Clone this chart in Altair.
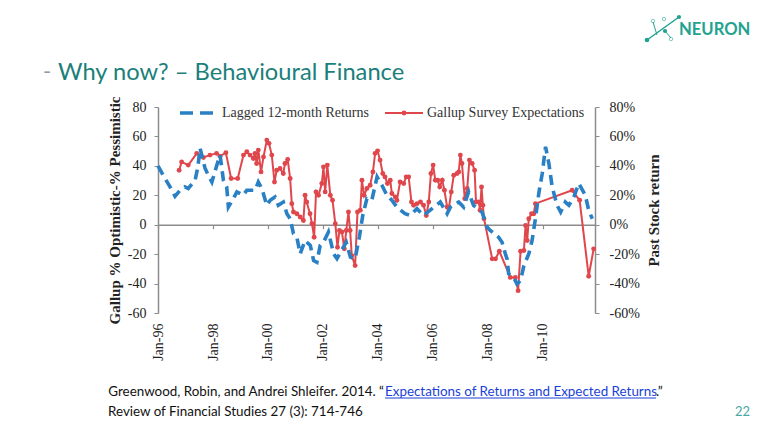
import altair as alt
import pandas as pd

# ---------------- data ----------------
# Lagged 12-month returns (right axis, %), decimal year -> value
blue_t = [1996.00, 1996.19, 1996.44, 1996.62, 1996.80, 1996.98, 1997.10, 1997.35, 1997.45, 1997.53,
          1997.71, 1997.83, 1997.96, 1998.14, 1998.26, 1998.38, 1998.50, 1998.56, 1998.74, 1998.87,
          1999.10, 1999.23, 1999.53, 1999.65, 1999.78, 1999.96, 2000.08, 2000.26, 2000.38, 2000.56,
          2000.69, 2000.81, 2000.93, 2001.05, 2001.17, 2001.35, 2001.54, 2001.66, 2001.78, 2001.90,
          2002.02, 2002.20, 2002.39, 2002.51, 2002.69, 2002.85, 2003.00, 2003.17, 2003.33, 2003.45,
          2003.60, 2003.78, 2003.97, 2004.15, 2004.33, 2004.51, 2004.69, 2004.99, 2005.18, 2005.42,
          2005.66, 2005.97, 2006.27, 2006.52, 2006.64, 2006.94, 2007.12, 2007.30, 2007.48, 2007.79,
          2007.97, 2008.09, 2008.39, 2008.52, 2008.64, 2008.70, 2008.76, 2008.94, 2009.06, 2009.19,
          2009.31, 2009.49, 2009.61, 2009.73, 2009.86, 2009.98, 2010.10, 2010.22, 2010.34, 2010.52,
          2010.65, 2010.82, 2010.95, 2011.13, 2011.31, 2011.55, 2011.67, 2011.80]
blue_v = [40, 33.6, 25.7, 19.3, 23.4, 25.7, 24.6, 30.2, 39.3, 52,
          38.4, 33.6, 29, 40.5, 47.3, 30.2, 25.7, 12, 17.7, 22.3,
          20, 23.4, 23.4, 29, 24.6, 13.2, 16.6, 18.8, 13.2, 15.4,
          7.5, 4.1, -6.1, -8.5, -19.8, -10.7, -14.1, -24.4, -25.5, -14.1,
          -11.9, -5, -19.8, -23, -17, -12, -22.1, -23.2, -8, 6.3,
          17.7, 16.6, 32.5, 26.8, 20, 16.6, 12, 7.5, 6.3, 10.9,
          6.3, 10.9, 15.4, 7.5, 12, 15.4, 12, 22.3, 13.2, 8.6,
          -1.6, -3.9, -8.5, -11.9, -19.8, -23.2, -33.4, -35.8, -40.3, -38,
          -27.8, -19.8, -10.7, 4.1, 22.3, 34.8, 53, 41.6, 25.7, 13.2,
          8.6, 15.4, 13.2, 18.8, 28, 20, 9.8, 4.1]

# Gallup survey expectations (left axis), decimal year -> value
red_t = [1996.77, 1996.86, 1997.10, 1997.41, 1997.65, 1997.89, 1998.13, 1998.26, 1998.47, 1998.66,
         1998.90, 1999.11, 1999.23, 1999.35, 1999.47, 1999.53, 1999.59, 1999.65, 1999.75, 1999.84,
         1999.96, 2000.04, 2000.14, 2000.24, 2000.32, 2000.44, 2000.56, 2000.62, 2000.72, 2000.81,
         2000.87, 2000.93, 2001.05, 2001.17, 2001.29, 2001.35, 2001.41, 2001.53, 2001.60, 2001.68,
         2001.75, 2001.84, 2001.96, 2002.02, 2002.08, 2002.16, 2002.27, 2002.35, 2002.45, 2002.53,
         2002.60, 2002.69, 2002.78, 2002.85, 2002.93, 2002.99, 2003.05, 2003.17, 2003.26, 2003.36,
         2003.42, 2003.50, 2003.60, 2003.72, 2003.82, 2003.90, 2003.99, 2004.08, 2004.18, 2004.26,
         2004.35, 2004.45, 2004.51, 2004.63, 2004.69, 2004.81, 2004.94, 2005.03, 2005.12, 2005.22,
         2005.30, 2005.42, 2005.55, 2005.66, 2005.76, 2005.85, 2005.93, 2006.01, 2006.09, 2006.18,
         2006.25, 2006.34, 2006.42, 2006.52, 2006.58, 2006.67, 2006.76, 2006.88, 2006.94, 2007.00,
         2007.06, 2007.16, 2007.25, 2007.33, 2007.43, 2007.52, 2007.57, 2007.67, 2007.72, 2007.77,
         2007.82, 2007.86, 2008.16, 2008.28, 2008.42, 2008.82, 2009.00, 2009.10, 2009.19, 2009.31,
         2009.37, 2009.43, 2009.49, 2009.59, 2009.67, 2009.73, 2011.07, 2011.34, 2011.67, 2011.85]
red_v = [37, 42.7, 40.5, 48.5, 45.7, 47.3, 48.5, 46.6, 48.9, 31.4,
         31.4, 47.3, 49.6, 47.3, 45, 48.5, 41.6, 50.7, 35.9, 46.1,
         57.5, 55.3, 47.3, 29, 37, 38.2, 34.8, 41.6, 44.4, 31.4,
         14.3, 8.6, 7.5, 5.2, 2.9, 20, 15.4, 7.5, 0.7, -8.5,
         22.3, 20, 28, 39.3, 22.3, 40.5, 20, 16.6, 0.7, -15.3,
         -3.9, -5, -16.4, -3.9, 8.6, -3.9, -21, -27.8, 8.6, 9.8,
         30.2, 20, 24.6, 26.8, 35.9, 48.5, 50.2, 43.9, 34.8, 32.5,
         28, 30.2, 21.2, 18.8, 16.6, 29, 28, 32.5, 32.5, 15.4,
         13.2, 14.3, 15.4, 13.2, 6.3, 15.4, 34.8, 40.5, 30.2, 30.2,
         25.7, 30.2, 23.4, 12, 10.9, 22.3, 33.6, 34.8, 35.9, 47.3,
         41.6, 17.7, 24.6, 43.9, 41.6, 37, 15.4, 15.4, 9.8, 25.7,
         13.2, 4.1, -23.2, -23.2, -18, -35.8, -35.8, -44.8, -18, -17.5,
         -0.5, -10.7, 4.1, 7.5, 7.5, 14.3, 23.4, 16.6, -35, -16.4]

left_ticks = [-60, -40, -20, 0, 20, 40, 60, 80]
right_ticks = [-0.6, -0.4, -0.2, 0.0, 0.2, 0.4, 0.6, 0.8]
tick_years = [1996, 1998, 2000, 2002, 2004, 2006, 2008, 2010]

series_blue = "Lagged 12-month Returns"
series_red = "Gallup Survey Expectations"
left_title = "Gallup % Optimistic-% Pessimistic"
right_title = "Past Stock return"
slide_title = "Why now? – Behavioural Finance"
cite_a = "Greenwood, Robin, and Andrei Shleifer. 2014. “"
cite_link = "Expectations of Returns and Expected Returns"
cite_b = ".”"
cite_line2 = "Review of Financial Studies 27 (3): 714-746"
page_no = "22"
logo = "NEURON"


def to_date(t):
    y = int(t)
    d = pd.Timestamp(year=y, month=1, day=1) + pd.Timedelta(days=(t - y) * 365.25)
    return d.strftime("%Y-%m-%d")


blue_df = pd.DataFrame({"date": [to_date(t) for t in blue_t], "ret": [v / 100 for v in blue_v]})
red_df = pd.DataFrame({"date": [to_date(t) for t in red_t], "gallup": red_v})
dummy = pd.DataFrame({"a": [0]})

# ---------------- styling ----------------
W, H = 437, 206
BLUE = "#2a80c4"
RED = "#df474c"
GREY = "#8c8c8c"
TEAL = "#1b7f7b"
SERIF = "Liberation Serif"
SANS = "Lato"
FOOT = 13.4
zero_off = H * 60 / 140

x_scale = alt.Scale(domain=[alt.DateTime(year=1996, month=1, date=1),
                            alt.DateTime(year=2011, month=11, date=25)])
x_axis = alt.Axis(values=[alt.DateTime(year=y, month=1, date=1) for y in tick_years],
                  format="%b-%y", labelAngle=270, labelFont=SERIF, labelFontSize=14,
                  labelColor="#222222", labelFlush=False, labelOverlap=False,
                  domainColor=GREY, domainWidth=1.5, tickColor=GREY, tickWidth=1.2,
                  tickSize=4, offset=-zero_off, labelPadding=zero_off + 6,
                  grid=False, title=None)
x_enc = alt.X("date:T", scale=x_scale, axis=x_axis)

red = alt.Chart(red_df).mark_line(
    color=RED, strokeWidth=2,
    point=alt.OverlayMarkDef(filled=True, size=24, color=RED)
).encode(
    x=x_enc,
    y=alt.Y("gallup:Q", scale=alt.Scale(domain=[-60, 80], nice=False),
            axis=alt.Axis(values=left_ticks, orient="left", labelExpr="datum.value + ''",
                          labelFont=SERIF, labelFontSize=14, labelColor="#222222",
                          labelPadding=8, tickSize=4, tickColor=GREY, domainColor=GREY,
                          domainWidth=1.5, grid=False, title=left_title, titleFont=SERIF,
                          titleFontSize=15, titleFontWeight="bold", titleColor="#222222",
                          titlePadding=5)),
)

blue = alt.Chart(blue_df).mark_line(
    color=BLUE, strokeWidth=3.6, strokeDash=[10, 6]
).encode(
    x=x_enc,
    y=alt.Y("ret:Q", scale=alt.Scale(domain=[-0.6, 0.8], nice=False),
            axis=alt.Axis(values=right_ticks, orient="right",
                          labelExpr="round(datum.value * 100) + '%'",
                          labelFont=SERIF, labelFontSize=14, labelColor="#222222",
                          labelPadding=10, tickSize=4, tickColor=GREY, domainColor=GREY,
                          domainWidth=1.5, grid=False, title=right_title, titleFont=SERIF,
                          titleFontSize=15, titleFontWeight="bold", titleColor="#222222",
                          titleAngle=270, titleBaseline="top", titlePadding=7)),
)

base = alt.Chart(dummy)


def txt(s, x, y, **kw):
    return base.mark_text(text=s, **kw).encode(x=alt.value(x), y=alt.value(y))


def seg(x1, x2, y, **kw):
    return base.mark_rule(**kw).encode(x=alt.value(x1), x2=alt.value(x2), y=alt.value(y))


legend = [
    seg(22, 57, 6, color=BLUE, strokeWidth=3.6, strokeDash=[13, 7]),
    txt(series_blue, 64, 6, font=SERIF, fontSize=14, color="#333333", align="left", baseline="middle"),
    seg(227, 265, 6, color=RED, strokeWidth=2),
    base.mark_point(filled=True, size=24, color=RED, opacity=1).encode(x=alt.value(246), y=alt.value(6)),
    txt(series_red, 269, 6, font=SERIF, fontSize=14, color="#333333", align="left", baseline="middle"),
]

slide = [
    txt("-", -115, -28, font=SANS, fontSize=22, color="#9a9a9a", align="left", baseline="alphabetic"),
    txt(slide_title, -100, -27, font=SANS, fontSize=23.7, color=TEAL, align="left", baseline="alphabetic"),
    txt(logo, 521, -77, font=SANS, fontSize=16.6, fontWeight="bold", color="#22a28f",
        align="left", baseline="middle"),
    base.mark_rule(color="#22a28f", strokeWidth=1.5).encode(
        x=alt.value(489), x2=alt.value(521), y=alt.value(-67), y2=alt.value(-90)),
    base.mark_rule(color="#22a28f", strokeWidth=1).encode(
        x=alt.value(507), x2=alt.value(513), y=alt.value(-76), y2=alt.value(-69)),
    base.mark_rule(color="#22a28f", strokeWidth=1).encode(
        x=alt.value(495), x2=alt.value(499), y=alt.value(-85), y2=alt.value(-72)),
    base.mark_point(filled=True, size=22, color="#22a28f", opacity=1).encode(x=alt.value(489), y=alt.value(-67)),
    base.mark_point(filled=True, size=18, color="#22a28f", opacity=1).encode(x=alt.value(507), y=alt.value(-76)),
    base.mark_point(filled=True, size=18, color="#22a28f", opacity=1).encode(x=alt.value(521), y=alt.value(-90)),
    base.mark_point(filled=False, size=12, color="#22a28f", strokeWidth=0.8).encode(x=alt.value(495), y=alt.value(-86)),
    base.mark_point(filled=False, size=12, color="#22a28f", strokeWidth=0.8).encode(x=alt.value(506), y=alt.value(-88)),
    base.mark_point(filled=False, size=12, color="#22a28f", strokeWidth=0.8).encode(x=alt.value(513), y=alt.value(-68)),
    txt(cite_a, 226, 289, font=SANS, fontSize=FOOT, color="#111111", align="right", baseline="alphabetic"),
    txt(cite_link, 227, 289, font=SANS, fontSize=FOOT, color="#1a3fd6", align="left", baseline="alphabetic"),
    seg(227, 498, 291, color="#1a3fd6", strokeWidth=1),
    txt(cite_b, 498, 289, font=SANS, fontSize=FOOT, color="#111111", align="left", baseline="alphabetic"),
    txt(cite_line2, -50, 309, font=SANS, fontSize=FOOT, color="#111111", align="left", baseline="alphabetic"),
    txt(page_no, 577, 309, font=SANS, fontSize=13, color="#4aa9a0", align="left", baseline="alphabetic"),
]

chart = alt.layer(red, blue, *legend, *slide).resolve_scale(y="independent").properties(
    width=W, height=H,
    autosize=alt.AutoSizeParams(type="none"),
    padding={"left": 150, "top": 99, "right": 747 - 150 - W, "bottom": 411 - 99 - H},
    background="white",
).configure_view(stroke=None)

chart.save("out.html", embed_options={"renderer": "svg", "actions": False})
